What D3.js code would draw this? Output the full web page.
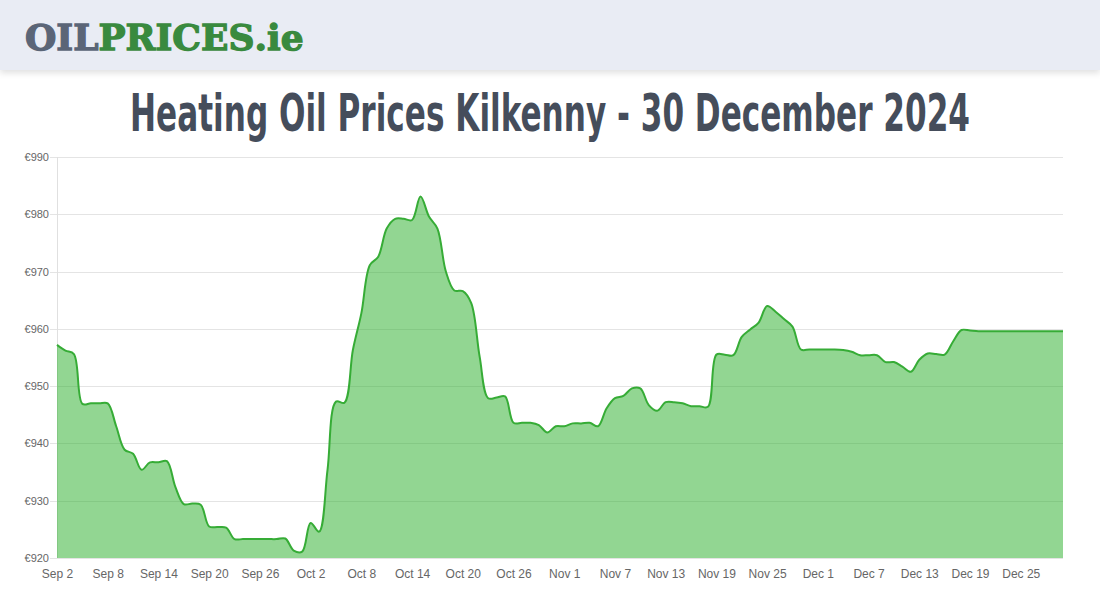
<!DOCTYPE html>
<html lang="en">
<head>
<meta charset="utf-8">
<title>Heating Oil Prices Kilkenny</title>
<script src="https://cdn.jsdelivr.net/npm/d3@7"></script>
<style>
    body { margin: 0; background: #fff; font-family: "Liberation Sans", Arial, sans-serif; }
    .grid line { stroke: #e4e4e4; shape-rendering: crispEdges; }
    .axis text { fill: #666; font-family: "Liberation Sans", Arial, sans-serif; }
    .axis path { display: none; }
</style>
</head>
<body>
<svg id="chart" width="1100" height="600"></svg>
<script>
    // daily prices, first value is Sep 2 2024
    var startDay = new Date(2024, 8, 2);
    var prices = [
        957.2, 956.2, 955.6, 946.9, 947.0, 947.0, 947.0, 943.0, 938.9, 938.2,
        935.4, 936.7, 936.7, 936.9, 932.4, 929.4, 929.5, 929.3, 925.5, 925.4,
        925.3, 923.3, 923.3, 923.3, 923.3, 923.3, 923.3, 923.4, 921.3, 921.1,
        926.1, 924.6, 935.4, 947.3, 947.1, 956.3, 962.7, 971.1, 972.6, 977.5,
        979.2, 979.2, 979.0, 983.1, 979.6, 977.5, 970.0, 966.7, 966.6, 964.5,
        955.1, 947.9, 948.0, 948.2, 943.6, 943.6, 943.6, 943.2, 941.9, 943.0,
        943.0, 943.5, 943.5, 943.6, 943.0, 946.1, 947.9, 948.3, 949.6, 949.6,
        946.7, 945.7, 947.2, 947.2, 947.0, 946.5, 946.5, 946.4, 955.5, 955.5,
        955.4, 958.6, 959.9, 961.1, 964.0, 963.0, 961.7, 960.4, 956.4, 956.4,
        956.4, 956.4, 956.4, 956.3, 956.0, 955.4, 955.4, 955.4, 954.2, 954.2,
        953.4, 952.5, 954.6, 955.7, 955.6, 955.5, 957.8, 959.8, 959.7, 959.6,
        959.6, 959.6, 959.6, 959.6, 959.6, 959.6, 959.6, 959.6, 959.6, 959.6
    ];
    var yTicks = [920, 930, 940, 950, 960, 970, 980, 990];
    var tickEvery = 6;
    var logoParts = ["OIL", "PRICES", ".ie"];
    var logoColors = ["#5b6577", "#398a3e", "#398a3e"];

    var data = prices.map(function (p, i) {
        return { date: d3.timeDay.offset(startDay, i), value: p };
    });

    var margin = { top: 157, right: 37, bottom: 42, left: 57 },
        width = 1100 - margin.left - margin.right,
        height = 600 - margin.top - margin.bottom;

    var svg = d3.select("#chart");

    // header band
    var defs = svg.append("defs");
    var sh = defs.append("filter").attr("id", "shadow").attr("y", "-20%").attr("height", "160%");
    sh.append("feDropShadow").attr("dx", 0).attr("dy", 3).attr("stdDeviation", 3)
        .attr("flood-color", "#000").attr("flood-opacity", 0.12);

    svg.append("rect")
        .attr("x", 0).attr("y", 0).attr("width", 1100).attr("height", 70)
        .attr("fill", "#e9ecf4")
        .attr("filter", "url(#shadow)");

    // logo pieces placed side by side
    var logo = svg.selectAll("text.logo")
        .data(logoParts)
        .enter().append("text")
        .attr("class", "logo")
        .attr("y", 50)
        .attr("fill", function (d, i) { return logoColors[i]; })
        .attr("stroke", function (d, i) { return logoColors[i]; })
        .attr("stroke-width", 1.3)
        .style("font-family", "'DejaVu Serif', serif")
        .style("font-weight", "bold")
        .style("font-size", "36px")
        .text(function (d) { return d; });
    var lx = 25;
    logo.each(function () {
        d3.select(this).attr("x", lx);
        lx += this.getComputedTextLength();
    });

    // title: squeeze horizontally to the reference width, keep its height
    var title = svg.append("text")
        .attr("text-anchor", "middle")
        .style("font-family", "'DejaVu Sans Condensed', 'Liberation Sans Narrow', sans-serif")
        .style("font-size", "52px")
        .style("font-weight", "bold")
        .attr("fill", "#454d5b")
        .text("Heating Oil Prices Kilkenny - 30 December 2024");
    var tw = title.node().getComputedTextLength();
    var sx = Math.min(1, 840 / tw);
    title.attr("transform", "translate(550,131) scale(" + sx + ",1)");

    var g = svg.append("g")
        .attr("transform", "translate(" + margin.left + "," + margin.top + ")");

    var x = d3.scaleTime()
        .domain(d3.extent(data, function (d) { return d.date; }))
        .range([0, width]);

    var y = d3.scaleLinear()
        .domain([920, 990])
        .range([height, 0]);

    // grid + y labels
    g.append("g")
        .attr("class", "grid")
        .call(d3.axisLeft(y).tickValues(yTicks).tickSize(-width - 7).tickFormat(""))
        .attr("transform", "translate(-7,0)")
        .select(".domain").remove();

    g.append("line")
        .attr("x1", 0).attr("x2", 0).attr("y1", 0).attr("y2", height)
        .attr("stroke", "#e0e0e0").attr("shape-rendering", "crispEdges");

    g.append("g")
        .attr("class", "axis")
        .attr("transform", "translate(-7,0)")
        .call(d3.axisLeft(y).tickValues(yTicks).tickSize(0).tickPadding(1)
            .tickFormat(function (d) { return "€" + d; }))
        .selectAll("text").style("font-size", "11px");

    var xTicks = data.filter(function (d, i) { return i % tickEvery === 0; })
        .map(function (d) { return d.date; });

    g.append("g")
        .attr("class", "axis")
        .attr("transform", "translate(0," + height + ")")
        .call(d3.axisBottom(x).tickValues(xTicks).tickSize(0).tickPadding(11)
            .tickFormat(d3.timeFormat("%b %-d")))
        .selectAll("text").style("font-size", "12px");

    var curve = d3.curveCatmullRom.alpha(0.5);

    var area = d3.area()
        .x(function (d) { return x(d.date); })
        .y0(height)
        .y1(function (d) { return y(d.value); })
        .curve(curve);

    var line = d3.line()
        .x(function (d) { return x(d.date); })
        .y(function (d) { return y(d.value); })
        .curve(curve);

    g.append("path")
        .datum(data)
        .attr("d", area)
        .attr("fill", "rgba(37,173,37,0.5)");

    g.append("path")
        .datum(data)
        .attr("d", line)
        .attr("fill", "none")
        .attr("stroke", "#36ac36")
        .attr("stroke-width", 2);
</script>
</body>
</html>
